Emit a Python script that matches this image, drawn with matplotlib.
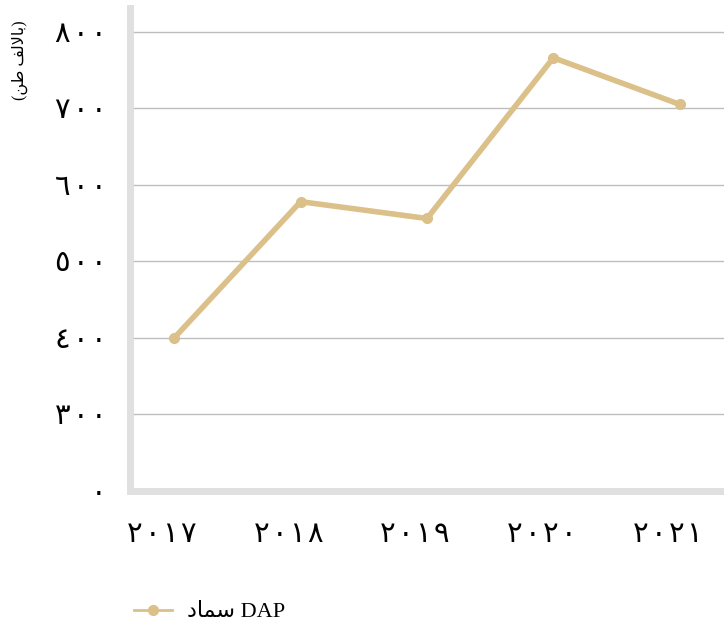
import matplotlib.pyplot as plt
from matplotlib.lines import Line2D
from matplotlib.transforms import ScaledTranslation

years = ["٢٠١٧", "٢٠١٨", "٢٠١٩", "٢٠٢٠", "٢٠٢١"]
dap = [400, 578, 556, 766, 705]
ytick_vals = [200, 300, 400, 500, 600, 700, 800]
ytick_labels = ["٠", "٣٠٠", "٤٠٠", "٥٠٠", "٦٠٠", "٧٠٠", "٨٠٠"]

# arabic text already shaped (presentation forms, visual order)
unit_label = "(\uFEE6\uFEC3 \uFED2\uFEDF\uFEFB\uFE8E\uFE91)"
series_label = "\uFEA9\uFE8E\uFEE4\uFEB3 DAP"

fonts = ["Liberation Serif", "DejaVu Sans"]
plt.rcParams["font.family"] = fonts

line_color = "#dbc08a"


def spaced(s):
    # the reference digits are widely tracked
    return "\u200a".join(s)


fig = plt.figure(figsize=(7.24, 6.28), dpi=100)
ax = fig.add_axes([130 / 724, 137 / 628, 594 / 724, 483 / 628])

x = list(range(len(years)))
ax.plot(x, dap, color=line_color, lw=4, marker="o", ms=7, solid_capstyle="round")

ax.set_xlim(-0.35, 4.35)
ax.set_ylim(202, 831)
ax.set_yticks(ytick_vals)
ax.set_yticklabels([spaced(t) for t in ytick_labels], fontsize=21)
ax.set_xticks(x)
ax.set_xticklabels([spaced(t) for t in years], fontsize=21)
ax.tick_params(length=0)
ax.tick_params(axis="y", pad=17)
ax.tick_params(axis="x", pad=22)
shift = ScaledTranslation(-0.12, 0, fig.dpi_scale_trans)
for lab in ax.get_xticklabels():
    lab.set_transform(lab.get_transform() + shift)

ax.grid(axis="y", color="#bdbdbd", lw=1)
ax.set_axisbelow(True)
for s in ["top", "right"]:
    ax.spines[s].set_visible(False)
for s in ["left", "bottom"]:
    ax.spines[s].set_color("#e0e0e0")
    ax.spines[s].set_linewidth(5)

fig.text(20 / 724, 1 - 60 / 628, unit_label, rotation=90, ha="center", va="center", fontsize=11.5)

handle = Line2D([], [], color=line_color, lw=2, marker="o", ms=7)
fig.legend([handle], [series_label], loc="center left", bbox_to_anchor=(114 / 724, 1 - 612 / 628),
           frameon=False, fontsize=16, handlelength=1.7, handletextpad=0.7)

fig.savefig("out.png", dpi=100)
